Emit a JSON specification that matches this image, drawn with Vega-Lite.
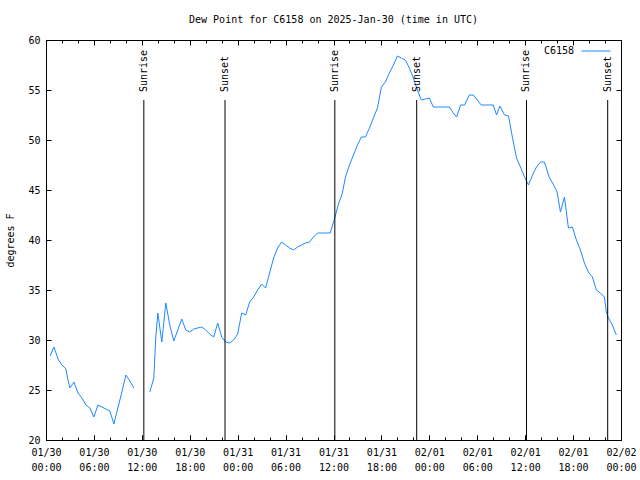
{
  "$schema": "https://vega.github.io/schema/vega-lite/v6.json",
  "width": 575,
  "height": 400,
  "autosize": {"type": "none"},
  "padding": {"left": 46, "top": 40, "right": 19, "bottom": 40},
  "background": "white",
  "title": {"text": "Dew Point for C6158 on 2025-Jan-30 (time in UTC)", "font": "DejaVu Sans Mono", "fontSize": 10, "fontWeight": "normal", "color": "black", "offset": 10},
  "config": {
    "view": {"stroke": "black", "strokeWidth": 1},
    "font": "DejaVu Sans Mono",
    "axis": {"domain": false, "grid": false, "labelFont": "DejaVu Sans Mono", "labelFontSize": 10, "labelColor": "black", "tickColor": "black", "tickWidth": 1, "titleFont": "DejaVu Sans Mono", "titleFontSize": 10, "titleFontWeight": "normal", "titleColor": "black", "labelOverlap": false, "labelFlush": false},
    "legend": {"padding": 0}
  },
  "datasets": {
    "dew": [
      {"t": "2025-01-30T00:30:00Z", "v": 28.4, "seg": 1},
      {"t": "2025-01-30T01:00:00Z", "v": 29.3, "seg": 1},
      {"t": "2025-01-30T01:30:00Z", "v": 28.1, "seg": 1},
      {"t": "2025-01-30T02:00:00Z", "v": 27.5, "seg": 1},
      {"t": "2025-01-30T02:30:00Z", "v": 27.1, "seg": 1},
      {"t": "2025-01-30T02:45:00Z", "v": 26.0, "seg": 1},
      {"t": "2025-01-30T03:00:00Z", "v": 25.2, "seg": 1},
      {"t": "2025-01-30T03:30:00Z", "v": 25.8, "seg": 1},
      {"t": "2025-01-30T04:00:00Z", "v": 24.7, "seg": 1},
      {"t": "2025-01-30T04:30:00Z", "v": 24.2, "seg": 1},
      {"t": "2025-01-30T05:00:00Z", "v": 23.5, "seg": 1},
      {"t": "2025-01-30T05:30:00Z", "v": 23.2, "seg": 1},
      {"t": "2025-01-30T06:00:00Z", "v": 22.3, "seg": 1},
      {"t": "2025-01-30T06:30:00Z", "v": 23.5, "seg": 1},
      {"t": "2025-01-30T07:00:00Z", "v": 23.3, "seg": 1},
      {"t": "2025-01-30T07:30:00Z", "v": 23.1, "seg": 1},
      {"t": "2025-01-30T08:00:00Z", "v": 22.9, "seg": 1},
      {"t": "2025-01-30T08:30:00Z", "v": 21.6, "seg": 1},
      {"t": "2025-01-30T09:00:00Z", "v": 23.2, "seg": 1},
      {"t": "2025-01-30T09:30:00Z", "v": 24.8, "seg": 1},
      {"t": "2025-01-30T10:00:00Z", "v": 26.5, "seg": 1},
      {"t": "2025-01-30T10:30:00Z", "v": 25.9, "seg": 1},
      {"t": "2025-01-30T11:00:00Z", "v": 25.2, "seg": 1},
      {"t": "2025-01-30T13:00:00Z", "v": 24.8, "seg": 2},
      {"t": "2025-01-30T13:30:00Z", "v": 26.2, "seg": 2},
      {"t": "2025-01-30T13:45:00Z", "v": 30.3, "seg": 2},
      {"t": "2025-01-30T14:00:00Z", "v": 32.7, "seg": 2},
      {"t": "2025-01-30T14:30:00Z", "v": 29.8, "seg": 2},
      {"t": "2025-01-30T15:00:00Z", "v": 33.7, "seg": 2},
      {"t": "2025-01-30T15:30:00Z", "v": 31.5, "seg": 2},
      {"t": "2025-01-30T16:00:00Z", "v": 29.9, "seg": 2},
      {"t": "2025-01-30T16:30:00Z", "v": 31.0, "seg": 2},
      {"t": "2025-01-30T17:00:00Z", "v": 32.1, "seg": 2},
      {"t": "2025-01-30T17:30:00Z", "v": 31.0, "seg": 2},
      {"t": "2025-01-30T18:00:00Z", "v": 30.8, "seg": 2},
      {"t": "2025-01-30T18:30:00Z", "v": 31.1, "seg": 2},
      {"t": "2025-01-30T19:00:00Z", "v": 31.2, "seg": 2},
      {"t": "2025-01-30T19:30:00Z", "v": 31.3, "seg": 2},
      {"t": "2025-01-30T20:00:00Z", "v": 31.0, "seg": 2},
      {"t": "2025-01-30T20:30:00Z", "v": 30.6, "seg": 2},
      {"t": "2025-01-30T21:00:00Z", "v": 30.3, "seg": 2},
      {"t": "2025-01-30T21:30:00Z", "v": 31.7, "seg": 2},
      {"t": "2025-01-30T22:00:00Z", "v": 30.3, "seg": 2},
      {"t": "2025-01-30T22:30:00Z", "v": 29.8, "seg": 2},
      {"t": "2025-01-30T23:00:00Z", "v": 29.7, "seg": 2},
      {"t": "2025-01-30T23:30:00Z", "v": 30.0, "seg": 2},
      {"t": "2025-01-31T00:00:00Z", "v": 30.6, "seg": 2},
      {"t": "2025-01-31T00:30:00Z", "v": 32.7, "seg": 2},
      {"t": "2025-01-31T01:00:00Z", "v": 32.5, "seg": 2},
      {"t": "2025-01-31T01:30:00Z", "v": 33.8, "seg": 2},
      {"t": "2025-01-31T02:00:00Z", "v": 34.3, "seg": 2},
      {"t": "2025-01-31T02:30:00Z", "v": 35.0, "seg": 2},
      {"t": "2025-01-31T03:00:00Z", "v": 35.6, "seg": 2},
      {"t": "2025-01-31T03:30:00Z", "v": 35.2, "seg": 2},
      {"t": "2025-01-31T04:00:00Z", "v": 36.7, "seg": 2},
      {"t": "2025-01-31T04:30:00Z", "v": 38.2, "seg": 2},
      {"t": "2025-01-31T05:00:00Z", "v": 39.2, "seg": 2},
      {"t": "2025-01-31T05:30:00Z", "v": 39.8, "seg": 2},
      {"t": "2025-01-31T06:00:00Z", "v": 39.5, "seg": 2},
      {"t": "2025-01-31T06:30:00Z", "v": 39.2, "seg": 2},
      {"t": "2025-01-31T07:00:00Z", "v": 39.0, "seg": 2},
      {"t": "2025-01-31T07:30:00Z", "v": 39.3, "seg": 2},
      {"t": "2025-01-31T08:00:00Z", "v": 39.5, "seg": 2},
      {"t": "2025-01-31T08:30:00Z", "v": 39.7, "seg": 2},
      {"t": "2025-01-31T09:00:00Z", "v": 39.8, "seg": 2},
      {"t": "2025-01-31T09:30:00Z", "v": 40.3, "seg": 2},
      {"t": "2025-01-31T10:00:00Z", "v": 40.7, "seg": 2},
      {"t": "2025-01-31T10:30:00Z", "v": 40.7, "seg": 2},
      {"t": "2025-01-31T11:00:00Z", "v": 40.7, "seg": 2},
      {"t": "2025-01-31T11:35:00Z", "v": 40.7, "seg": 2},
      {"t": "2025-01-31T12:05:00Z", "v": 42.0, "seg": 2},
      {"t": "2025-01-31T12:35:00Z", "v": 43.5, "seg": 2},
      {"t": "2025-01-31T13:05:00Z", "v": 44.6, "seg": 2},
      {"t": "2025-01-31T13:30:00Z", "v": 46.3, "seg": 2},
      {"t": "2025-01-31T14:00:00Z", "v": 47.5, "seg": 2},
      {"t": "2025-01-31T14:30:00Z", "v": 48.5, "seg": 2},
      {"t": "2025-01-31T15:00:00Z", "v": 49.5, "seg": 2},
      {"t": "2025-01-31T15:30:00Z", "v": 50.3, "seg": 2},
      {"t": "2025-01-31T16:00:00Z", "v": 50.3, "seg": 2},
      {"t": "2025-01-31T16:30:00Z", "v": 51.2, "seg": 2},
      {"t": "2025-01-31T17:00:00Z", "v": 52.2, "seg": 2},
      {"t": "2025-01-31T17:30:00Z", "v": 53.2, "seg": 2},
      {"t": "2025-01-31T18:00:00Z", "v": 55.3, "seg": 2},
      {"t": "2025-01-31T18:30:00Z", "v": 55.8, "seg": 2},
      {"t": "2025-01-31T19:00:00Z", "v": 56.7, "seg": 2},
      {"t": "2025-01-31T19:30:00Z", "v": 57.5, "seg": 2},
      {"t": "2025-01-31T20:00:00Z", "v": 58.4, "seg": 2},
      {"t": "2025-01-31T20:30:00Z", "v": 58.2, "seg": 2},
      {"t": "2025-01-31T21:00:00Z", "v": 58.0, "seg": 2},
      {"t": "2025-01-31T21:30:00Z", "v": 57.2, "seg": 2},
      {"t": "2025-01-31T22:00:00Z", "v": 56.2, "seg": 2},
      {"t": "2025-01-31T22:30:00Z", "v": 55.0, "seg": 2},
      {"t": "2025-01-31T23:00:00Z", "v": 54.0, "seg": 2},
      {"t": "2025-01-31T23:30:00Z", "v": 54.1, "seg": 2},
      {"t": "2025-02-01T00:00:00Z", "v": 54.2, "seg": 2},
      {"t": "2025-02-01T00:30:00Z", "v": 53.3, "seg": 2},
      {"t": "2025-02-01T01:00:00Z", "v": 53.3, "seg": 2},
      {"t": "2025-02-01T01:30:00Z", "v": 53.3, "seg": 2},
      {"t": "2025-02-01T02:00:00Z", "v": 53.3, "seg": 2},
      {"t": "2025-02-01T02:30:00Z", "v": 53.3, "seg": 2},
      {"t": "2025-02-01T03:00:00Z", "v": 52.7, "seg": 2},
      {"t": "2025-02-01T03:25:00Z", "v": 52.3, "seg": 2},
      {"t": "2025-02-01T03:55:00Z", "v": 53.5, "seg": 2},
      {"t": "2025-02-01T04:25:00Z", "v": 53.5, "seg": 2},
      {"t": "2025-02-01T05:00:00Z", "v": 54.5, "seg": 2},
      {"t": "2025-02-01T05:30:00Z", "v": 54.5, "seg": 2},
      {"t": "2025-02-01T06:00:00Z", "v": 54.0, "seg": 2},
      {"t": "2025-02-01T06:30:00Z", "v": 53.5, "seg": 2},
      {"t": "2025-02-01T07:00:00Z", "v": 53.5, "seg": 2},
      {"t": "2025-02-01T07:30:00Z", "v": 53.5, "seg": 2},
      {"t": "2025-02-01T08:00:00Z", "v": 53.5, "seg": 2},
      {"t": "2025-02-01T08:25:00Z", "v": 52.5, "seg": 2},
      {"t": "2025-02-01T08:50:00Z", "v": 53.4, "seg": 2},
      {"t": "2025-02-01T09:25:00Z", "v": 52.5, "seg": 2},
      {"t": "2025-02-01T09:55:00Z", "v": 52.4, "seg": 2},
      {"t": "2025-02-01T10:25:00Z", "v": 50.2, "seg": 2},
      {"t": "2025-02-01T10:55:00Z", "v": 48.2, "seg": 2},
      {"t": "2025-02-01T11:25:00Z", "v": 47.3, "seg": 2},
      {"t": "2025-02-01T11:55:00Z", "v": 46.3, "seg": 2},
      {"t": "2025-02-01T12:25:00Z", "v": 45.5, "seg": 2},
      {"t": "2025-02-01T12:55:00Z", "v": 46.5, "seg": 2},
      {"t": "2025-02-01T13:25:00Z", "v": 47.3, "seg": 2},
      {"t": "2025-02-01T13:55:00Z", "v": 47.8, "seg": 2},
      {"t": "2025-02-01T14:25:00Z", "v": 47.8, "seg": 2},
      {"t": "2025-02-01T15:00:00Z", "v": 46.3, "seg": 2},
      {"t": "2025-02-01T15:30:00Z", "v": 45.6, "seg": 2},
      {"t": "2025-02-01T16:00:00Z", "v": 44.8, "seg": 2},
      {"t": "2025-02-01T16:25:00Z", "v": 42.8, "seg": 2},
      {"t": "2025-02-01T16:55:00Z", "v": 44.3, "seg": 2},
      {"t": "2025-02-01T17:25:00Z", "v": 41.2, "seg": 2},
      {"t": "2025-02-01T17:55:00Z", "v": 41.3, "seg": 2},
      {"t": "2025-02-01T18:25:00Z", "v": 40.0, "seg": 2},
      {"t": "2025-02-01T18:55:00Z", "v": 39.0, "seg": 2},
      {"t": "2025-02-01T19:25:00Z", "v": 37.7, "seg": 2},
      {"t": "2025-02-01T19:55:00Z", "v": 36.8, "seg": 2},
      {"t": "2025-02-01T20:25:00Z", "v": 36.3, "seg": 2},
      {"t": "2025-02-01T20:55:00Z", "v": 35.0, "seg": 2},
      {"t": "2025-02-01T21:25:00Z", "v": 34.7, "seg": 2},
      {"t": "2025-02-01T21:55:00Z", "v": 34.3, "seg": 2},
      {"t": "2025-02-01T22:10:00Z", "v": 32.8, "seg": 2},
      {"t": "2025-02-01T22:25:00Z", "v": 32.2, "seg": 2},
      {"t": "2025-02-01T22:55:00Z", "v": 31.5, "seg": 2},
      {"t": "2025-02-01T23:25:00Z", "v": 30.5, "seg": 2}
    ],
    "sun": [
      {"t": "2025-01-30T12:15:00Z", "label": "Sunrise"},
      {"t": "2025-01-30T22:25:00Z", "label": "Sunset"},
      {"t": "2025-01-31T12:10:00Z", "label": "Sunrise"},
      {"t": "2025-01-31T22:25:00Z", "label": "Sunset"},
      {"t": "2025-02-01T12:10:00Z", "label": "Sunrise"},
      {"t": "2025-02-01T22:20:00Z", "label": "Sunset"}
    ]
  },
  "layer": [
    {
      "data": {"name": "dew"},
      "mark": {"type": "line", "strokeWidth": 1},
      "encoding": {
        "x": {
          "field": "t", "type": "temporal",
          "scale": {"type": "utc", "domain": [1738195200000, 1738454400000], "nice": false},
          "axis": {
            "orient": "bottom", "title": null,
            "labelExpr": "['01/30', '01/31', '02/01', '02/02'][floor(round((datum.value - 1738195200000) / 21600000) / 4)]",
            "values": [1738195200000, 1738216800000, 1738238400000, 1738260000000, 1738281600000, 1738303200000, 1738324800000, 1738346400000, 1738368000000, 1738389600000, 1738411200000, 1738432800000, 1738454400000],
            "tickSize": -5, "labelPadding": 12
          }
        },
        "y": {
          "field": "v", "type": "quantitative",
          "scale": {"domain": [20, 60], "nice": false, "zero": false},
          "axis": {"orient": "left", "title": "degrees F", "values": [20, 25, 30, 35, 40, 45, 50, 55, 60], "tickSize": -5, "labelPadding": 11, "titlePadding": 12}
        },
        "detail": {"field": "seg", "type": "nominal"},
        "color": {
          "datum": "C6158", "type": "nominal",
          "scale": {"range": ["#1e88ff"]},
          "legend": {"title": null, "orient": "none", "legendX": 535, "legendY": -4, "symbolType": "stroke", "symbolSize": 841, "symbolStrokeWidth": 1, "labelAlign": "right", "labelOffset": -37, "labelFont": "DejaVu Sans Mono", "labelFontSize": 10, "labelColor": "black"}
        }
      }
    },
    {
      "data": {"name": "sun"},
      "transform": [{"filter": "datum.label == 'Sunrise'"}],
      "mark": {"type": "rule", "color": "black", "strokeWidth": 1},
      "encoding": {
        "x": {
          "field": "t", "type": "temporal",
          "axis": {
            "orient": "top", "title": null, "labels": false, "tickSize": -5,
            "values": [1738195200000, 1738216800000, 1738238400000, 1738260000000, 1738281600000, 1738303200000, 1738324800000, 1738346400000, 1738368000000, 1738389600000, 1738411200000, 1738432800000, 1738454400000]
          }
        },
        "y": {"datum": 54, "type": "quantitative", "axis": {"orient": "right", "title": null, "labels": false, "values": [20, 25, 30, 35, 40, 45, 50, 55, 60], "tickSize": -5}},
        "y2": {"datum": 20}
      }
    },
    {
      "data": {"name": "sun"},
      "transform": [{"filter": "datum.label == 'Sunset'"}],
      "mark": {"type": "rule", "color": "black", "strokeWidth": 1},
      "encoding": {
        "x": {
          "field": "t", "type": "temporal",
          "axis": {
            "orient": "top", "title": null, "labels": false, "tickSize": -3,
            "values": [1738195200000, 1738202400000, 1738209600000, 1738216800000, 1738224000000, 1738231200000, 1738238400000, 1738245600000, 1738252800000, 1738260000000, 1738267200000, 1738274400000, 1738281600000, 1738288800000, 1738296000000, 1738303200000, 1738310400000, 1738317600000, 1738324800000, 1738332000000, 1738339200000, 1738346400000, 1738353600000, 1738360800000, 1738368000000, 1738375200000, 1738382400000, 1738389600000, 1738396800000, 1738404000000, 1738411200000, 1738418400000, 1738425600000, 1738432800000, 1738440000000, 1738447200000, 1738454400000]
          }
        },
        "y": {"datum": 54, "type": "quantitative", "axis": null},
        "y2": {"datum": 20}
      }
    },
    {
      "data": {"name": "sun"},
      "transform": [{"filter": "datum.label == 'Sunrise'"}],
      "mark": {"type": "text", "angle": 270, "align": "left", "baseline": "middle", "font": "DejaVu Sans Mono", "fontSize": 10, "color": "black"},
      "encoding": {
        "x": {
          "field": "t", "type": "temporal",
          "axis": {
            "orient": "bottom", "title": null, "tickSize": -5, "labelPadding": 27,
            "labelExpr": "['00:00', '06:00', '12:00', '18:00'][round((datum.value - 1738195200000) / 21600000) % 4]",
            "values": [1738195200000, 1738216800000, 1738238400000, 1738260000000, 1738281600000, 1738303200000, 1738324800000, 1738346400000, 1738368000000, 1738389600000, 1738411200000, 1738432800000, 1738454400000]
          }
        },
        "y": {"datum": 54.8, "type": "quantitative", "axis": null},
        "text": {"field": "label"}
      }
    },
    {
      "data": {"name": "sun"},
      "transform": [{"filter": "datum.label == 'Sunset'"}],
      "mark": {"type": "text", "angle": 270, "align": "left", "baseline": "middle", "font": "DejaVu Sans Mono", "fontSize": 10, "color": "black"},
      "encoding": {
        "x": {
          "field": "t", "type": "temporal",
          "axis": {
            "orient": "bottom", "title": null, "labels": false, "tickSize": -3,
            "values": [1738195200000, 1738202400000, 1738209600000, 1738216800000, 1738224000000, 1738231200000, 1738238400000, 1738245600000, 1738252800000, 1738260000000, 1738267200000, 1738274400000, 1738281600000, 1738288800000, 1738296000000, 1738303200000, 1738310400000, 1738317600000, 1738324800000, 1738332000000, 1738339200000, 1738346400000, 1738353600000, 1738360800000, 1738368000000, 1738375200000, 1738382400000, 1738389600000, 1738396800000, 1738404000000, 1738411200000, 1738418400000, 1738425600000, 1738432800000, 1738440000000, 1738447200000, 1738454400000]
          }
        },
        "y": {"datum": 54.8, "type": "quantitative", "axis": null},
        "text": {"field": "label"}
      }
    }
  ],
  "resolve": {"scale": {"x": "shared", "y": "shared"}, "axis": {"x": "independent", "y": "independent"}}
}
